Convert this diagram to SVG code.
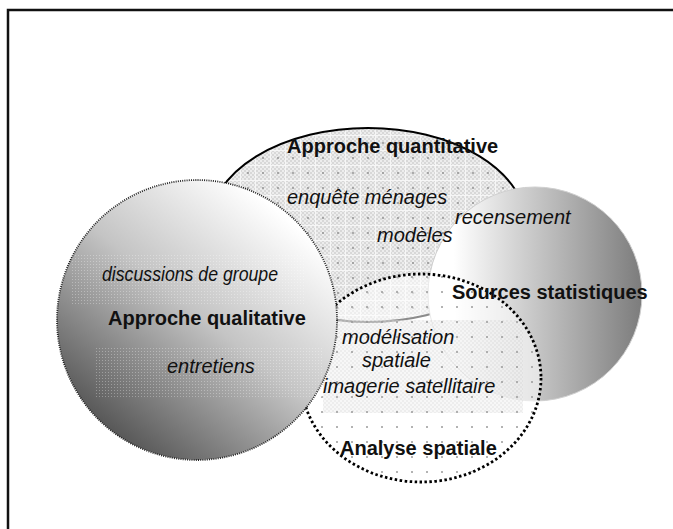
<svg xmlns="http://www.w3.org/2000/svg" width="673" height="529" viewBox="0 0 673 529">
<defs>
  <pattern id="fineGrid" width="4" height="4" patternUnits="userSpaceOnUse">
    <rect width="4" height="4" fill="#d8d8d8"/>
    <rect width="2" height="2" fill="#ededed"/>
    <rect x="2" y="2" width="2" height="2" fill="#ededed"/>
  </pattern>
  <pattern id="crossGrid" width="15" height="15" patternUnits="userSpaceOnUse">
    <path d="M0 0.5H15M0.5 0V15" stroke="#f6f6f6" stroke-width="1" fill="none"/>
    <circle cx="8" cy="8" r="0.9" fill="#8a8a8a"/>
  </pattern>
  <pattern id="dots" width="15" height="15" patternUnits="userSpaceOnUse">
    <circle cx="7" cy="7" r="1" fill="#9a9a9a"/>
  </pattern>
  <pattern id="patchDots" width="3" height="3" patternUnits="userSpaceOnUse">
    <rect width="1" height="1" fill="#ffffff"/>
  </pattern>
  <linearGradient id="gradLeft" x1="0.8" y1="0.12" x2="0.15" y2="0.92">
    <stop offset="0" stop-color="#ffffff"/>
    <stop offset="0.45" stop-color="#c4c4c4"/>
    <stop offset="1" stop-color="#4e4e4e"/>
  </linearGradient>
  <linearGradient id="gradRight" x1="0" y1="0" x2="1" y2="0">
    <stop offset="0.12" stop-color="#ffffff"/>
    <stop offset="1" stop-color="#7c7c7c"/>
  </linearGradient>
  <clipPath id="clipSpatial">
    <ellipse cx="421" cy="378" rx="120" ry="104"/>
  </clipPath>
  <style>
    .bold { font-family: "Liberation Sans", Arial, sans-serif; font-weight: bold; font-size: 20px; fill: #111; }
    .ital { font-family: "Liberation Sans", Arial, sans-serif; font-style: italic; font-size: 20px; fill: #111; }
  </style>
</defs>

<rect x="0" y="0" width="673" height="529" fill="#ffffff"/>
<rect id="frame" x="8" y="10" width="720" height="600" fill="none" stroke="#111" stroke-width="2.5"/>

<g id="node-quantitative">
  <ellipse cx="368" cy="225" rx="158" ry="97" fill="url(#fineGrid)"/>
  <ellipse cx="368" cy="225" rx="158" ry="97" fill="url(#crossGrid)" stroke="#000" stroke-width="2"/>
</g>

<g id="node-statistiques">
  <circle cx="535" cy="294" r="107" fill="url(#gradRight)" stroke="#cfcfcf" stroke-width="1"/>
</g>

<g id="node-spatiale">
  <ellipse cx="421" cy="378" rx="120" ry="104" fill="#ffffff" fill-opacity="0.55"/>
  <g clip-path="url(#clipSpatial)">
    <rect x="323" y="320" width="200" height="93" fill="url(#fineGrid)" opacity="0.45"/>
  </g>
  <ellipse cx="421" cy="378" rx="120" ry="104" fill="url(#dots)" stroke="#000" stroke-width="2.8" stroke-dasharray="2.5 2.5"/>
</g>

<g id="node-qualitative">
  <circle cx="197" cy="320" r="140" fill="url(#gradLeft)" stroke="#222" stroke-width="1.8" stroke-dasharray="1 1.2"/>
  <rect x="72" y="255" width="233" height="50" fill="url(#patchDots)" opacity="0.3"/>
  <rect x="95" y="347" width="228" height="50" fill="url(#patchDots)" opacity="0.3"/>
</g>

<g id="labels-quantitative">
  <text class="bold" x="287" y="153">Approche quantitative</text>
  <text class="ital" x="287" y="204">enquête ménages</text>
  <text class="ital" x="377" y="242">modèles</text>
</g>
<g id="labels-statistiques">
  <text class="ital" x="455" y="224">recensement</text>
  <text class="bold" x="452" y="299">Sources statistiques</text>
</g>
<g id="labels-qualitative">
  <text class="ital" x="102" y="281" textLength="176" lengthAdjust="spacingAndGlyphs">discussions de groupe</text>
  <text class="bold" x="108" y="325">Approche qualitative</text>
  <text class="ital" x="167" y="373">entretiens</text>
</g>
<g id="labels-spatiale">
  <text class="ital" x="342" y="344">modélisation</text>
  <text class="ital" x="362" y="367">spatiale</text>
  <text class="ital" x="323" y="393">imagerie satellitaire</text>
  <text class="bold" x="340" y="455">Analyse spatiale</text>
</g>
</svg>
